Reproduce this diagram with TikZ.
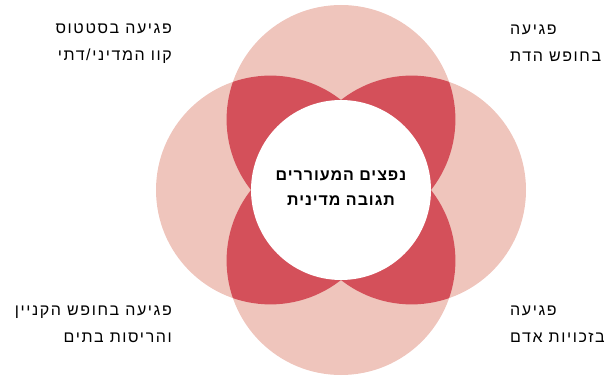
\documentclass[tikz,border=0pt]{standalone}
\usepackage{fontspec}
\newfontfamily\hebfont[Script=Hebrew, LetterSpace=10]{Liberation Sans}
\newfontfamily\hebbold[Script=Hebrew, LetterSpace=6]{Liberation Sans Bold}
\TeXXeTstate=1
\definecolor{petal}{HTML}{EFC5BC}
\definecolor{overlap}{HTML}{D4505A}
\tikzset{
  heb/.style={font=\hebfont\fontsize{16}{27}\selectfont, inner sep=0pt},
}
\begin{document}
\begin{tikzpicture}[x=1pt,y=1pt]
    \useasboundingbox (0,0) rectangle (611,378);

    % Centres of the four circles
    \coordinate (mid) at (341,188);
    \coordinate (up) at (341,258.6);
    \coordinate (down) at (341,117.4);
    \coordinate (west) at (270.4,188);
    \coordinate (east) at (411.6,188);

    % Draw the four light circles
    \foreach \c in {up,down,west,east}
        \fill[petal] (\c) circle[radius=114.4];

    % Darker overlaps
    \foreach \c in {up,down} {
        \begin{scope}
            \clip (\c) circle[radius=114.4];
            \fill[overlap] (west) circle[radius=114.4];
            \fill[overlap] (east) circle[radius=114.4];
        \end{scope}
    }

    % White core with its text
    \node[circle, fill=white, minimum size=180, inner sep=0pt] (core) at (mid) {};
    \node[heb, align=center, font=\hebbold\fontsize{16}{25}\selectfont] (coretext) at (341,189.5)
        {\beginR נפצים המעוררים\endR\\\beginR תגובה מדינית\endR};

    % Label the four circles
    \node[heb, anchor=east, align=right] (status) at (172,334.5)
        {\beginR פגיעה בסטטוס\endR\\\beginR קוו המדיני/דתי\endR};
    \node[heb, anchor=west, align=left] (religion) at (510,334.5)
        {\beginR פגיעה\endR\\\beginR בחופש הדת\endR};
    \node[heb, anchor=east, align=right] (property) at (172,54)
        {\beginR פגיעה בחופש הקניין\endR\\\beginR והריסות בתים\endR};
    \node[heb, anchor=west, align=left] (rights) at (510,54)
        {\beginR פגיעה\endR\\\beginR בזכויות אדם\endR};
\end{tikzpicture}
\end{document}
